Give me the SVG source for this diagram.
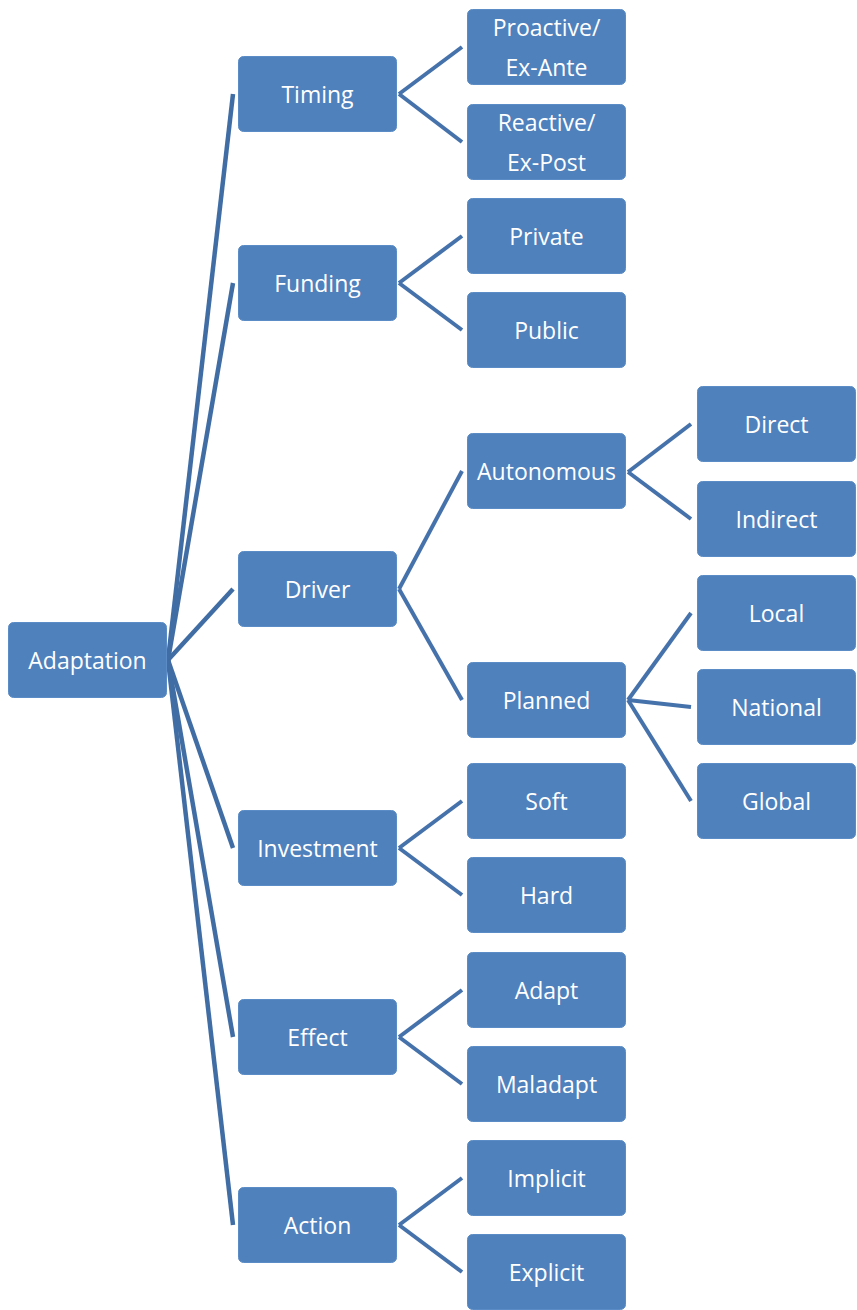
<svg xmlns="http://www.w3.org/2000/svg" width="857" height="1310" viewBox="0 0 857 1310">
<style>
.n rect{fill:#4f81bd;stroke:#5b8cc6;stroke-width:1}
.n text{fill:#fff;font-family:"Open Sans","DejaVu Sans",sans-serif;font-size:23px;text-anchor:middle;dominant-baseline:central}
.c line{stroke:#4672ac;stroke-width:4;stroke-linecap:butt}
.c line.r{stroke:#416da5;stroke-width:4.5}
</style>
<rect width="857" height="1310" fill="#fff"/>
<g class="c" id="connectors">
<line class="r" x1="168" y1="660" x2="233" y2="94"/>
<line class="r" x1="168" y1="660" x2="233" y2="283"/>
<line class="r" x1="168" y1="660" x2="233" y2="589"/>
<line class="r" x1="168" y1="660" x2="233" y2="848"/>
<line class="r" x1="168" y1="660" x2="233" y2="1037"/>
<line class="r" x1="168" y1="660" x2="233" y2="1225"/>
<line x1="399" y1="94" x2="462" y2="47"/>
<line x1="399" y1="94" x2="462" y2="142"/>
<line x1="399" y1="283" x2="462" y2="236"/>
<line x1="399" y1="283" x2="462" y2="330"/>
<line x1="399" y1="589" x2="462" y2="471"/>
<line x1="399" y1="589" x2="462" y2="700"/>
<line x1="399" y1="848" x2="462" y2="801"/>
<line x1="399" y1="848" x2="462" y2="895"/>
<line x1="399" y1="1037" x2="462" y2="990"/>
<line x1="399" y1="1037" x2="462" y2="1084"/>
<line x1="399" y1="1225" x2="462" y2="1178"/>
<line x1="399" y1="1225" x2="462" y2="1272"/>
<line x1="628" y1="472" x2="691" y2="424"/>
<line x1="628" y1="472" x2="691" y2="519"/>
<line x1="628" y1="700" x2="691" y2="613"/>
<line x1="628" y1="700" x2="691" y2="707"/>
<line x1="628" y1="700" x2="691" y2="801"/>
</g>
<g class="n" id="adaptation"><rect x="8.5" y="622.5" width="158" height="75" rx="5"/><text x="87.5" y="660">Adaptation</text></g>
<g class="n" id="timing"><rect x="238.5" y="56.5" width="158" height="75" rx="5"/><text x="317.5" y="94">Timing</text></g>
<g class="n" id="funding"><rect x="238.5" y="245.5" width="158" height="75" rx="5"/><text x="317.5" y="283">Funding</text></g>
<g class="n" id="driver"><rect x="238.5" y="551.5" width="158" height="75" rx="5"/><text x="317.5" y="589">Driver</text></g>
<g class="n" id="investment"><rect x="238.5" y="810.5" width="158" height="75" rx="5"/><text x="317.5" y="848">Investment</text></g>
<g class="n" id="effect"><rect x="238.5" y="999.5" width="158" height="75" rx="5"/><text x="317.5" y="1037">Effect</text></g>
<g class="n" id="action"><rect x="238.5" y="1187.5" width="158" height="75" rx="5"/><text x="317.5" y="1225">Action</text></g>
<g class="n" id="proactive"><rect x="467.5" y="9.5" width="158" height="75" rx="5"/><text x="546.5" y="27">Proactive/</text><text x="546.5" y="67">Ex-Ante</text></g>
<g class="n" id="reactive"><rect x="467.5" y="104.5" width="158" height="75" rx="5"/><text x="546.5" y="122">Reactive/</text><text x="546.5" y="162">Ex-Post</text></g>
<g class="n" id="private"><rect x="467.5" y="198.5" width="158" height="75" rx="5"/><text x="546.5" y="236">Private</text></g>
<g class="n" id="public"><rect x="467.5" y="292.5" width="158" height="75" rx="5"/><text x="546.5" y="330">Public</text></g>
<g class="n" id="autonomous"><rect x="467.5" y="433.5" width="158" height="75" rx="5"/><text x="546.5" y="471">Autonomous</text></g>
<g class="n" id="planned"><rect x="467.5" y="662.5" width="158" height="75" rx="5"/><text x="546.5" y="700">Planned</text></g>
<g class="n" id="soft"><rect x="467.5" y="763.5" width="158" height="75" rx="5"/><text x="546.5" y="801">Soft</text></g>
<g class="n" id="hard"><rect x="467.5" y="857.5" width="158" height="75" rx="5"/><text x="546.5" y="895">Hard</text></g>
<g class="n" id="adapt"><rect x="467.5" y="952.5" width="158" height="75" rx="5"/><text x="546.5" y="990">Adapt</text></g>
<g class="n" id="maladapt"><rect x="467.5" y="1046.5" width="158" height="75" rx="5"/><text x="546.5" y="1084">Maladapt</text></g>
<g class="n" id="implicit"><rect x="467.5" y="1140.5" width="158" height="75" rx="5"/><text x="546.5" y="1178">Implicit</text></g>
<g class="n" id="explicit"><rect x="467.5" y="1234.5" width="158" height="75" rx="5"/><text x="546.5" y="1272">Explicit</text></g>
<g class="n" id="direct"><rect x="697.5" y="386.5" width="158" height="75" rx="5"/><text x="776.5" y="424">Direct</text></g>
<g class="n" id="indirect"><rect x="697.5" y="481.5" width="158" height="75" rx="5"/><text x="776.5" y="519">Indirect</text></g>
<g class="n" id="local"><rect x="697.5" y="575.5" width="158" height="75" rx="5"/><text x="776.5" y="613">Local</text></g>
<g class="n" id="national"><rect x="697.5" y="669.5" width="158" height="75" rx="5"/><text x="776.5" y="707">National</text></g>
<g class="n" id="global"><rect x="697.5" y="763.5" width="158" height="75" rx="5"/><text x="776.5" y="801">Global</text></g>
</svg>
